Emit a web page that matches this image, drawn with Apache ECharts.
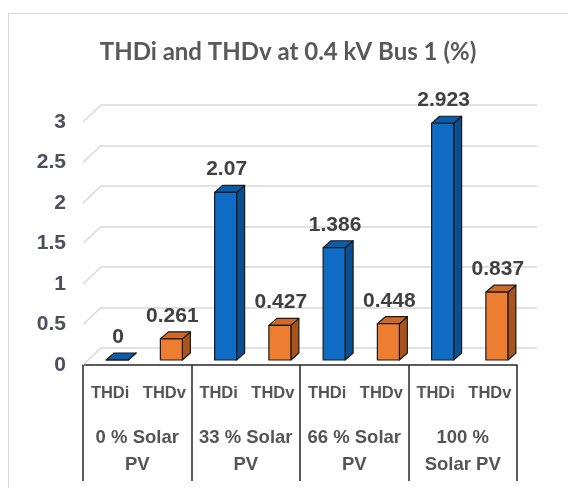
<!DOCTYPE html>
<html>
<head>
<meta charset="utf-8">
<script src="https://cdn.jsdelivr.net/npm/echarts@6/dist/echarts.min.js"></script>
<style>
  html, body { margin: 0; padding: 0; background: #ffffff; }
  #chart { width: 568px; height: 488px; }
</style>
</head>
<body>
<div id="chart"></div>
<script>
// Sub-category labels under each bar, and the scenario groups below them
const barLabels = ['THDi', 'THDv', 'THDi', 'THDv', 'THDi', 'THDv', 'THDi', 'THDv'];
const groups = ['0 % Solar\nPV', '33 % Solar\nPV', '66 % Solar\nPV', '100 %\nSolar PV'];

// Harmonic distortion per scenario (%)
const thdi = [0, 2.07, 1.386, 2.923];
const thdv = [0.261, 0.427, 0.448, 0.837];

// Value-axis ticks
const yTicks = [0, 0.5, 1, 1.5, 2, 2.5, 3];

// Depth of the 3D box and of the back wall, in pixels
const BOX_W = 22, BOX_DX = 8, BOX_DY = -7;
const WALL_DX = 18, WALL_DY = -17;

const labelFont = 'bold 21px "Liberation Sans", Arial, sans-serif';

function boxRenderer(front, side, top) {
  return function (params, api) {
    const idx = api.value(0);
    const v = api.value(1);
    const pt = api.coord([idx, v]);
    const base = api.coord([idx, 0]);
    const xl = pt[0] - BOX_W / 2, xr = pt[0] + BOX_W / 2;
    const yt = pt[1], yb = base[1];
    const line = { stroke: '#1a1a1a', lineWidth: 1.2, lineJoin: 'round' };
    return {
      type: 'group',
      children: [
        { type: 'polygon', shape: { points: [[xr, yb], [xr + BOX_DX, yb + BOX_DY], [xr + BOX_DX, yt + BOX_DY], [xr, yt]] },
          style: Object.assign({ fill: side }, line) },
        { type: 'polygon', shape: { points: [[xl, yt], [xl + BOX_DX, yt + BOX_DY], [xr + BOX_DX, yt + BOX_DY], [xr, yt]] },
          style: Object.assign({ fill: top }, line) },
        { type: 'rect', shape: { x: xl, y: yt, width: BOX_W, height: yb - yt },
          style: Object.assign({ fill: front }, line) },
        { type: 'text', style: { text: String(v), x: pt[0] + 1, y: yt - 23, align: 'center', verticalAlign: 'middle',
          font: labelFont, fill: '#404040' } }
      ]
    };
  };
}

const thdiData = thdi.map((v, g) => [2 * g, v]);
const thdvData = thdv.map((v, g) => [2 * g + 1, v]);

const chart = echarts.init(document.getElementById('chart'), null, { renderer: 'canvas' });

chart.setOption({
  backgroundColor: '#ffffff',
  animation: false,
  title: {
    text: 'THDi and THDv at 0.4 kV Bus 1 (%)',
    left: 283,
    textAlign: 'center',
    top: 35,
    textStyle: { fontFamily: 'Lato', fontWeight: 'bold', fontSize: 24, color: '#595959' }
  },
  graphic: [{
    type: 'rect', shape: { x: 8.5, y: 13.5, width: 620, height: 520 },
    style: { fill: 'none', stroke: '#d9d9d9', lineWidth: 1 }, silent: true, z: -10
  }],
  grid: [
    { left: 90, right: 44, top: 117, bottom: 128 },   // bars
    { left: 101, right: 31, top: 105, bottom: 140 },  // back wall
    { left: 83, right: 51, top: 122, bottom: 123 }    // front plane / axes
  ],
  xAxis: [
    { gridIndex: 0, type: 'category', data: barLabels, show: false },
    { gridIndex: 1, type: 'category', data: barLabels, show: false },
    {
      gridIndex: 2, type: 'category', data: barLabels, position: 'bottom',
      axisLine: { show: true, lineStyle: { color: '#262626', width: 1.5 } },
      axisTick: { show: false },
      axisLabel: { interval: 0, margin: 20, color: '#555555',
        fontFamily: '"Liberation Sans", Arial, sans-serif', fontWeight: 'bold', fontSize: 16.5 }
    },
    {
      gridIndex: 2, type: 'category', data: groups, position: 'bottom',
      axisLine: { show: false },
      axisTick: { show: true, interval: 0, length: 116, lineStyle: { color: '#262626', width: 1.5 } },
      axisLabel: { interval: 0, margin: 59, lineHeight: 27, color: '#555555',
        fontFamily: '"Liberation Sans", Arial, sans-serif', fontWeight: 'bold', fontSize: 18.5 }
    }
  ],
  yAxis: [
    { gridIndex: 0, type: 'value', min: 0, max: 3, interval: 0.5, show: false },
    {
      gridIndex: 1, type: 'value', min: 0, max: 3, interval: 0.5,
      axisLine: { show: false }, axisTick: { show: false }, axisLabel: { show: false },
      splitLine: { show: true, lineStyle: { color: '#d9d9d9', width: 1.5 } }
    },
    {
      gridIndex: 2, type: 'value', min: 0, max: 3, interval: 0.5,
      axisLine: { show: false }, axisTick: { show: false }, splitLine: { show: false },
      axisLabel: { margin: 17, color: '#4d4f5c',
        fontFamily: '"Liberation Sans", Arial, sans-serif', fontWeight: 'bold', fontSize: 21 }
    }
  ],
  series: [
    {
      // diagonal edges joining the value ticks to the back wall
      type: 'custom', xAxisIndex: 2, yAxisIndex: 2, silent: true, z: 1,
      data: yTicks.map(v => [0, v]),
      renderItem: function (params, api) {
        const p = api.coord([0, api.value(1)]);
        const x0 = p[0] - api.size([1, 0])[0] / 2;
        return { type: 'line', shape: { x1: x0, y1: p[1], x2: x0 + WALL_DX, y2: p[1] + WALL_DY },
          style: { stroke: '#d9d9d9', lineWidth: 1.5 } };
      }
    },
    {
      name: 'THDi', type: 'custom', xAxisIndex: 0, yAxisIndex: 0, z: 5,
      data: thdiData, encode: { x: 0, y: 1 },
      renderItem: boxRenderer('#0f6cc4', '#0a4f8f', '#0b5cab')
    },
    {
      name: 'THDv', type: 'custom', xAxisIndex: 0, yAxisIndex: 0, z: 5,
      data: thdvData, encode: { x: 0, y: 1 },
      renderItem: boxRenderer('#ed7d31', '#a8541c', '#d06a26')
    }
  ]
});
</script>
</body>
</html>
